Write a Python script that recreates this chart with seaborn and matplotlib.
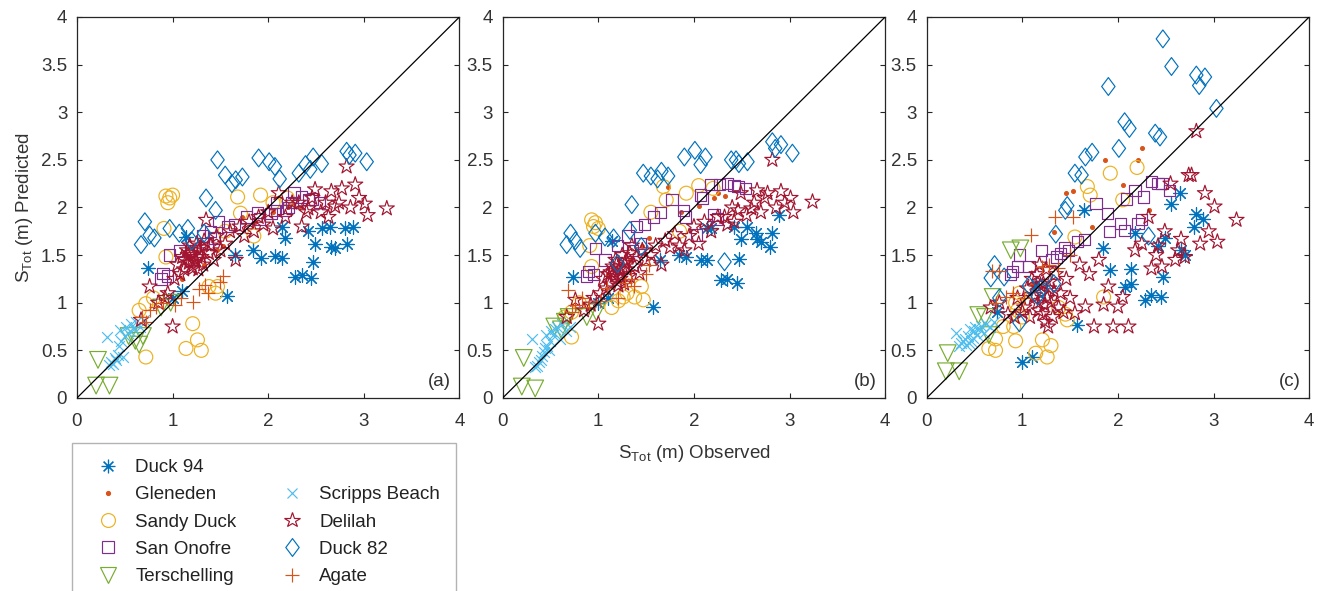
import numpy as np
import pandas as pd
import matplotlib
matplotlib.use("Agg")
import matplotlib.pyplot as plt
import matplotlib.lines as mlines
from matplotlib.path import Path
import seaborn as sns

# ---------------- data (observed shared, predicted per panel a/b/c) ----------------
duck94_obs = [0.74, 1.00, 1.10, 1.14, 1.57, 1.65, 1.84, 1.92, 2.07, 2.14, 2.18, 2.14, 2.28, 2.35,
              2.45, 2.47, 2.49, 2.42, 2.56, 2.65, 2.66, 2.70, 2.80, 2.89, 2.82]
duck94_a = [1.36, 1.05, 1.12, 1.69, 1.07, 1.50, 1.55, 1.47, 1.49, 1.47, 1.68, 1.80, 1.27, 1.29,
            1.26, 1.43, 1.62, 1.75, 1.78, 1.80, 1.59, 1.57, 1.78, 1.80, 1.62]
duck94_b = [1.27, 1.00, 1.05, 1.65, 0.96, 1.45, 1.50, 1.48, 1.45, 1.45, 1.78, 1.78, 1.24, 1.25,
            1.21, 1.46, 1.67, 1.80, 1.80, 1.73, 1.67, 1.64, 1.59, 1.92, 1.73]
duck94_c = [0.90, 0.38, 0.43, 1.20, 0.77, 1.97, 1.57, 1.34, 1.17, 1.20, 1.73, 1.35, 1.03, 1.08,
            1.06, 1.27, 1.68, 1.60, 2.04, 2.15, 1.55, 1.50, 1.80, 1.88, 1.93]

gleneden_obs = [1.33, 1.46, 1.53, 1.86, 2.05, 2.21, 2.25, 2.32, 1.10, 1.73]
gleneden_a = [1.40, 1.55, 1.60, 1.85, 1.95, 2.00, 2.05, 2.00, 1.25, 1.90]
gleneden_b = [1.45, 1.60, 1.68, 1.95, 2.02, 2.10, 2.15, 2.12, 1.30, 2.22]
gleneden_c = [1.74, 2.15, 2.17, 2.50, 2.24, 2.50, 2.62, 1.97, 1.20, 1.80]

sandyduck_obs = [0.93, 0.95, 0.97, 1.00, 0.91, 0.93, 0.72, 1.14, 1.21, 1.26, 1.30, 1.45, 1.47, 1.38,
                 1.68, 1.92, 1.71, 0.65, 0.72, 1.55, 2.05, 0.80, 2.20, 1.85]
sandyduck_a = [2.12, 2.05, 2.10, 2.13, 1.78, 1.48, 0.43, 0.52, 0.78, 0.61, 0.50, 1.10, 1.17, 1.17,
               2.11, 2.13, 1.94, 0.92, 0.99, 1.75, 2.05, 1.05, 2.10, 1.70]
sandyduck_b = [1.87, 1.80, 1.84, 1.78, 1.60, 1.38, 0.64, 0.95, 1.02, 1.06, 1.10, 1.17, 1.03, 1.06,
               2.22, 2.15, 2.08, 0.85, 0.90, 1.95, 2.23, 1.00, 2.20, 1.75]
sandyduck_c = [1.00, 0.92, 1.10, 0.85, 0.75, 0.60, 0.50, 0.47, 0.61, 0.43, 0.55, 0.88, 0.82, 0.95,
               2.22, 2.36, 2.13, 0.52, 0.62, 1.69, 2.08, 0.75, 2.42, 1.06]

sanonofre_obs = [0.90, 0.95, 0.97, 0.88, 1.07, 1.20, 1.31, 1.40, 1.48, 1.58, 1.65, 1.77, 1.89, 2.03,
                 2.07, 2.09, 2.18, 2.21, 2.25, 2.27, 2.35, 2.42, 2.46, 2.54, 1.91, 1.36, 1.44]
sanonofre_a = [1.31, 1.28, 1.50, 1.25, 1.55, 1.55, 1.70, 1.75, 1.85, 1.80, 1.82, 1.90, 1.95, 1.94,
               1.97, 2.05, 1.97, 2.00, 2.05, 2.16, 2.11, 2.08, 2.09, 2.05, 1.88, 1.62, 1.68]
sanonofre_b = [1.33, 1.30, 1.57, 1.28, 1.45, 1.60, 1.70, 1.80, 1.82, 1.90, 1.95, 2.08, 1.97, 1.71,
               2.13, 2.10, 2.24, 1.92, 1.88, 2.24, 2.25, 2.23, 2.22, 2.20, 1.90, 1.55, 1.62]
sanonofre_c = [1.33, 1.38, 1.50, 1.30, 1.38, 1.55, 1.45, 1.52, 1.55, 1.64, 1.66, 2.04, 1.94, 1.83,
               1.76, 2.09, 2.18, 1.83, 1.87, 2.11, 2.27, 2.25, 2.25, 2.18, 1.75, 1.48, 1.58]

terschelling_obs = [0.22, 0.20, 0.34, 0.61, 0.69, 0.65, 0.54, 0.88, 0.98]
terschelling_a = [0.40, 0.13, 0.13, 0.60, 0.65, 0.56, 0.65, 0.95, 1.00]
terschelling_b = [0.42, 0.12, 0.10, 0.72, 0.85, 0.80, 0.75, 0.85, 0.90]
terschelling_c = [0.47, 0.28, 0.28, 0.85, 1.06, 0.66, 0.87, 1.55, 1.57]

scripps_obs = [0.31, 0.34, 0.36, 0.38, 0.40, 0.41, 0.43, 0.45, 0.46, 0.48,
               0.50, 0.51, 0.53, 0.55, 0.57, 0.60, 0.62, 0.66, 0.70, 0.44]
scripps_a = [0.64, 0.35, 0.38, 0.36, 0.42, 0.40, 0.45, 0.71, 0.60, 0.43,
             0.65, 0.75, 0.68, 0.70, 0.78, 0.72, 0.80, 0.75, 0.82, 0.55]
scripps_b = [0.62, 0.32, 0.34, 0.38, 0.40, 0.44, 0.48, 0.66, 0.55, 0.50,
             0.60, 0.70, 0.66, 0.72, 0.75, 0.62, 0.78, 0.70, 0.74, 0.52]
scripps_c = [0.68, 0.55, 0.58, 0.60, 0.62, 0.56, 0.65, 0.72, 0.60, 0.63,
             0.70, 0.74, 0.66, 0.72, 0.76, 0.68, 0.78, 0.74, 0.80, 0.58]

delilah_obs = [0.67, 0.76, 0.85, 0.92, 1.00, 0.95,
               1.02, 1.05, 1.08, 1.10, 1.12, 1.15, 1.17, 1.18, 1.20, 1.22, 1.24, 1.25, 1.27, 1.28,
               1.30, 1.32, 1.35, 1.38, 1.40, 1.43, 1.46, 1.50,
               1.13, 1.19, 1.23, 1.26, 1.29, 1.21, 1.16, 1.33,
               1.55, 1.60, 1.66, 1.70, 1.75, 1.80, 1.85, 1.90, 1.95, 2.00, 2.05, 2.11, 2.18, 2.25,
               2.32, 2.35, 2.40, 2.42, 2.46, 2.49, 2.55, 2.60, 2.63, 2.66, 2.70, 2.74, 2.77, 2.82,
               2.86, 2.91, 2.95, 3.01, 3.04, 3.24]
delilah_a = [0.82, 1.17, 1.00, 1.05, 0.75, 1.10,
             1.25, 1.40, 1.30, 1.48, 1.35, 1.55, 1.42, 1.60, 1.38, 1.50, 1.45, 1.62, 1.35, 1.55,
             1.48, 1.40, 1.87, 1.52, 1.60, 1.45, 1.70, 1.55,
             1.45, 1.52, 1.43, 1.48, 1.58, 1.36, 1.50, 1.65,
             1.62, 1.75, 1.45, 1.80, 1.70, 1.85, 1.75, 1.90, 1.82, 1.95, 1.78, 2.15, 1.90, 2.05,
             2.05, 1.80, 1.95, 1.99, 2.10, 2.19, 1.95, 2.05, 1.90, 2.17, 2.01, 2.05, 2.20, 2.43,
             2.00, 2.24, 2.10, 2.04, 1.92, 1.99]
delilah_b = [0.85, 1.03, 0.92, 0.98, 0.78, 1.05,
             1.10, 1.25, 1.15, 1.30, 1.20, 1.38, 1.28, 1.45, 1.22, 1.35, 1.30, 1.50, 1.20, 1.42,
             1.35, 1.28, 1.60, 1.38, 1.48, 1.31, 1.55, 1.45,
             1.32, 1.40, 1.25, 1.36, 1.44, 1.18, 1.33, 1.52,
             1.50, 1.60, 1.40, 1.65, 1.58, 1.72, 1.60, 1.55, 1.70, 1.80, 1.62, 1.85, 1.75, 1.90,
             1.90, 1.82, 2.00, 1.85, 1.97, 2.15, 1.92, 1.99, 2.05, 2.18, 1.95, 2.10, 2.15, 2.50,
             2.00, 2.17, 2.05, 2.10, 1.95, 2.06]
delilah_c = [0.95, 1.00, 0.88, 0.85, 0.90, 1.05,
             0.95, 1.15, 0.85, 1.25, 1.05, 1.30, 0.92, 1.40, 1.10, 1.20, 0.80, 1.35, 0.75, 1.15,
             1.00, 0.85, 1.30, 0.95, 1.10, 0.90, 1.25, 1.05,
             1.08, 1.18, 0.98, 1.05, 1.22, 0.88, 1.00, 1.12,
             0.89, 1.40, 0.96, 1.30, 0.75, 1.45, 0.98, 1.17, 0.75, 0.96, 1.06, 0.75, 1.55, 1.62,
             1.90, 1.36, 1.50, 1.60, 1.38, 1.75, 2.25, 1.45, 1.55, 1.67, 1.48, 2.34, 2.34, 2.80,
             1.62, 2.15, 1.75, 2.01, 1.64, 1.87]

duck82_obs = [0.67, 0.71, 0.76, 0.81, 0.97, 1.07, 1.16, 1.33, 1.20, 1.35, 1.45, 1.47, 1.55, 1.62,
              1.66, 1.73, 1.90, 2.01, 2.07, 2.12, 2.32, 2.39, 2.44, 2.47, 2.56, 2.82, 2.91, 2.85, 3.03]
duck82_a = [1.61, 1.85, 1.71, 1.68, 1.78, 1.73, 1.78, 1.73, 1.65, 2.10, 1.97, 2.50, 2.34, 2.25,
            2.29, 2.32, 2.52, 2.48, 2.43, 2.30, 2.36, 2.45, 2.40, 2.53, 2.46, 2.59, 2.57, 2.55, 2.48]
duck82_b = [1.61, 1.73, 1.65, 1.57, 1.73, 1.69, 1.68, 1.76, 1.41, 2.03, 1.59, 2.36, 2.33, 2.30,
            2.38, 2.33, 2.53, 2.60, 2.45, 2.53, 1.43, 2.50, 2.50, 2.46, 2.48, 2.69, 2.66, 2.62, 2.57]
duck82_c = [1.26, 1.40, 1.05, 1.27, 0.79, 1.18, 1.07, 1.20, 1.15, 1.72, 1.97, 2.02, 2.36, 2.34,
            2.53, 2.58, 3.27, 2.62, 2.90, 2.83, 1.70, 2.78, 2.74, 3.77, 3.48, 3.39, 3.37, 3.28, 3.04]

agate_obs = [0.76, 0.68, 0.83, 0.90, 1.09, 1.21, 1.28, 1.34, 1.50, 1.53, 1.37, 0.72, 1.02]
agate_a = [0.92, 0.85, 0.95, 1.00, 1.05, 1.01, 1.14, 1.19, 1.22, 1.28, 1.10, 0.80, 0.98]
agate_b = [0.98, 1.13, 1.05, 0.95, 1.15, 1.05, 1.21, 1.25, 1.30, 1.40, 1.18, 0.90, 1.02]
agate_c = [1.33, 1.33, 1.06, 1.10, 1.71, 1.38, 1.40, 1.90, 1.50, 1.90, 1.36, 1.00, 1.05]

site_names = ["Duck 94", "Gleneden", "Sandy Duck", "San Onofre", "Terschelling",
              "Scripps Beach", "Delilah", "Duck 82", "Agate"]
panel_labels = ["(a)", "(b)", "(c)"]
x_ticks = [0, 1, 2, 3, 4]
y_ticks = [0, 0.5, 1, 1.5, 2, 2.5, 3, 3.5, 4]

site_data = {
    "Duck 94": (duck94_obs, [duck94_a, duck94_b, duck94_c]),
    "Gleneden": (gleneden_obs, [gleneden_a, gleneden_b, gleneden_c]),
    "Sandy Duck": (sandyduck_obs, [sandyduck_a, sandyduck_b, sandyduck_c]),
    "San Onofre": (sanonofre_obs, [sanonofre_a, sanonofre_b, sanonofre_c]),
    "Terschelling": (terschelling_obs, [terschelling_a, terschelling_b, terschelling_c]),
    "Scripps Beach": (scripps_obs, [scripps_a, scripps_b, scripps_c]),
    "Delilah": (delilah_obs, [delilah_a, delilah_b, delilah_c]),
    "Duck 82": (duck82_obs, [duck82_a, duck82_b, duck82_c]),
    "Agate": (agate_obs, [agate_a, agate_b, agate_c]),
}

rows = []
for site in site_names:
    obs, preds = site_data[site]
    for p, pred in enumerate(preds):
        for o, v in zip(obs, pred):
            rows.append({"site": site, "panel": p, "obs": o, "pred": v})
df = pd.DataFrame(rows)

# ---------------- styles ----------------
diamond = Path([(0, 1), (0.75, 0), (0, -1), (-0.75, 0), (0, 1)],
               [Path.MOVETO, Path.LINETO, Path.LINETO, Path.LINETO, Path.CLOSEPOLY])
style = {
    "Duck 94":       dict(marker=(8, 2, 0), color="#0072BD", s=95, filled=None),
    "Gleneden":      dict(marker=".", color="#D95319", s=30, filled=True),
    "Sandy Duck":    dict(marker="o", color="#EDB120", s=100, filled=False),
    "San Onofre":    dict(marker="s", color="#7E2F8E", s=66, filled=False),
    "Terschelling":  dict(marker="v", color="#77AC30", s=145, filled=False),
    "Scripps Beach": dict(marker="x", color="#4DBEEE", s=60, filled=None),
    "Delilah":       dict(marker="*", color="#A2142F", s=130, filled=False),
    "Duck 82":       dict(marker=diamond, color="#0072BD", s=165, filled=False),
    "Agate":         dict(marker="+", color="#D95319", s=115, filled=None),
}

sns.set_style("ticks")
plt.rcParams["font.family"] = ["Liberation Sans", "DejaVu Sans"]
plt.rcParams["mathtext.fontset"] = "custom"
plt.rcParams["mathtext.rm"] = "Liberation Sans"
text_color = "#333333"
axis_color = "#262626"
fs = 13.5

fig = plt.figure(figsize=(13.18, 5.91), dpi=100)
lefts = [0.0584, 0.3814, 0.7031]
axes = [fig.add_axes([l, 0.3266, 0.2902, 0.6447]) for l in lefts]

for p, ax in enumerate(axes):
    sub = df[df["panel"] == p]
    for site in site_names:
        st = style[site]
        d = sub[sub["site"] == site]
        kw = dict(marker=st["marker"], s=st["s"], linewidth=0.85)
        if st["filled"] is None:
            kw["color"] = st["color"]
        elif st["filled"]:
            kw.update(facecolor=st["color"], edgecolor=st["color"])
        else:
            kw.update(facecolor="none", edgecolor=st["color"])
        sns.scatterplot(data=d, x="obs", y="pred", ax=ax, legend=False, **kw)
    ax.axline((0, 0), slope=1, color="black", lw=0.9, zorder=10)
    ax.set_xlim(0, 4)
    ax.set_ylim(0, 4)
    ax.set_xticks(x_ticks)
    ax.set_yticks(y_ticks)
    ax.set_xticklabels([str(t) for t in x_ticks])
    ax.set_yticklabels([("%g" % t) for t in y_ticks])
    ax.tick_params(direction="in", length=3.5, width=0.8, top=True, right=True,
                   labelsize=fs, colors=axis_color, labelcolor=text_color, pad=7)
    ax.tick_params(axis="x", pad=11)
    for sp in ax.spines.values():
        sp.set_color(axis_color)
        sp.set_linewidth(0.9)
        sp.set_visible(True)
    ax.set_xlabel("")
    ax.set_ylabel("")
    ax.text(0.977, 0.02, panel_labels[p], transform=ax.transAxes, ha="right", va="bottom",
            fontsize=fs, color=text_color)

axes[0].set_ylabel(r"S$_\mathregular{Tot}$ (m) Predicted", fontsize=fs, color=text_color, labelpad=4)
axes[1].set_xlabel(r"S$_\mathregular{Tot}$ (m) Observed", fontsize=fs, color=text_color, labelpad=9)

# legend
handles = []
labels = []
order = ["Duck 94", "Gleneden", "Sandy Duck", "San Onofre", "Terschelling",
         None, "Scripps Beach", "Delilah", "Duck 82", "Agate"]
for site in order:
    if site is None:
        handles.append(mlines.Line2D([], [], linestyle="none", marker=None))
        labels.append(" ")
        continue
    st = style[site]
    ms = np.sqrt(st["s"])
    if st["filled"] is None:
        h = mlines.Line2D([], [], linestyle="none", marker=st["marker"], markersize=ms,
                          color=st["color"], markeredgewidth=0.85)
    elif st["filled"]:
        h = mlines.Line2D([], [], linestyle="none", marker=st["marker"], markersize=ms,
                          color=st["color"])
    else:
        h = mlines.Line2D([], [], linestyle="none", marker=st["marker"], markersize=ms,
                          markerfacecolor="none", markeredgecolor=st["color"], markeredgewidth=0.85)
    handles.append(h)
    labels.append(site)

leg = fig.legend(handles, labels, loc="upper left", bbox_to_anchor=(0.0546, 0.2504),
                 ncol=2, frameon=True, fancybox=False, edgecolor="#a0a0a0",
                 fontsize=fs, borderpad=0.85, handlelength=2.1, handletextpad=0.42,
                 columnspacing=1.9, labelspacing=0.54, borderaxespad=0.0)
leg.get_frame().set_linewidth(1.0)
for t in leg.get_texts():
    t.set_color("#222222")

fig.savefig("out.png", dpi=100)
